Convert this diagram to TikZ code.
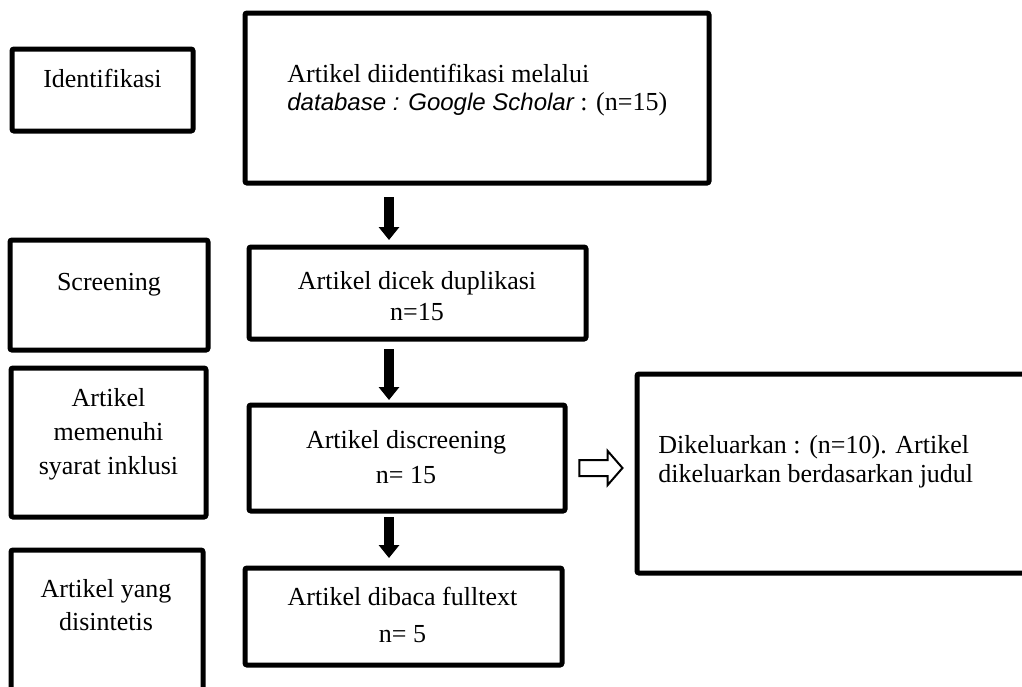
\documentclass[tikz,border=0pt]{standalone}
\usepackage{fontspec}
\setmainfont{Liberation Serif}
\newfontfamily\dbfont{Liberation Sans}
\usetikzlibrary{arrows.meta,shapes.arrows}

\begin{document}
\begin{tikzpicture}[x=0.5pt, y=-0.5pt,
  every node/.style={font=\fontsize{13}{15}\selectfont},
  box/.style={draw, line width=2.5pt, rounded corners=1pt, anchor=north west, inner sep=0pt, outer sep=0pt},
  txt/.style={inner sep=0pt, align=center},
  down/.style={line width=5pt, -{Triangle[width=10pt, length=6.5pt]}}]
\useasboundingbox (0,0) rectangle (1022,686);

% Stage boxes (left column)
\node[box, minimum width=90.5pt, minimum height=41pt] (ident) at (12,49) {};
\node[box, minimum width=99pt, minimum height=55pt] (screen) at (10,240) {};
\node[box, minimum width=97.5pt, minimum height=74.5pt] (syarat) at (11,368) {};
\node[box, minimum width=96pt, minimum height=75pt] (disin) at (11,550) {};

% Process boxes
\node[box, minimum width=232pt, minimum height=85pt] (db) at (245,13) {};
\node[box, minimum width=168.5pt, minimum height=46pt] (dup) at (249,247) {};
\node[box, minimum width=158pt, minimum height=53pt] (disc) at (249,405) {};
\node[box, minimum width=158.5pt, minimum height=48.5pt] (full) at (245,568) {};

% Excluded articles
\node[box, minimum width=196.5pt, minimum height=99.5pt] (keluar) at (637,374) {};

% Stage labels
\node[txt, anchor=base] (identlbl) at (102.5,87) {Identifikasi};
\node[txt, anchor=base] (screenlbl) at (109,290) {Screening};
\node[txt, anchor=north] (syaratlbl) at (108.5,388) {Artikel\\[2pt]memenuhi\\[2pt]syarat inklusi};
\node[txt, anchor=north] (disinlbl) at (106,579) {Artikel yang\\[1.5pt]disintetis};

% Process labels
\node[txt, anchor=north west, align=left] (dblbl) at (287,64)
  {Artikel diidentifikasi melalui\\[-1pt]{\dbfont\itshape\fontsize{12}{15}\selectfont database : Google Scholar} : (n=15)};
\node[txt, anchor=north] (duplbl) at (417,271) {Artikel dicek duplikasi\\[0.5pt]n=15};
\node[txt, anchor=north] (disclbl) at (406,430) {Artikel discreening\\[2.5pt]n= 15};
\node[txt, anchor=north] (fulllbl) at (402.5,587) {Artikel dibaca fulltext\\[3.5pt]n= 5};
\node[txt, anchor=north west, align=left] (keluarlbl) at (658,435)
  {Dikeluarkan : (n=10). Artikel\\[-0.5pt]dikeluarkan berdasarkan judul};

% Flow arrows
\coordinate (axis) at (389,0);
\draw[down, shorten <=7pt, shorten >=3.5pt] (db.south -| axis) -- (dup.north -| axis);
\draw[down, shorten <=5pt, shorten >=2.5pt] (dup.south -| axis) -- (disc.north -| axis);
\draw[down, shorten <=3pt, shorten >=5pt] (disc.south -| axis) -- (full.north -| axis);

% Hollow arrow to excluded box
\node[single arrow, draw, line width=1pt, inner xsep=0pt, inner ysep=3.5pt, minimum height=21.5pt,
  single arrow head extend=4.5pt, single arrow tip angle=98] (outarrow) at (597.5,468) {};
\end{tikzpicture}
\end{document}
